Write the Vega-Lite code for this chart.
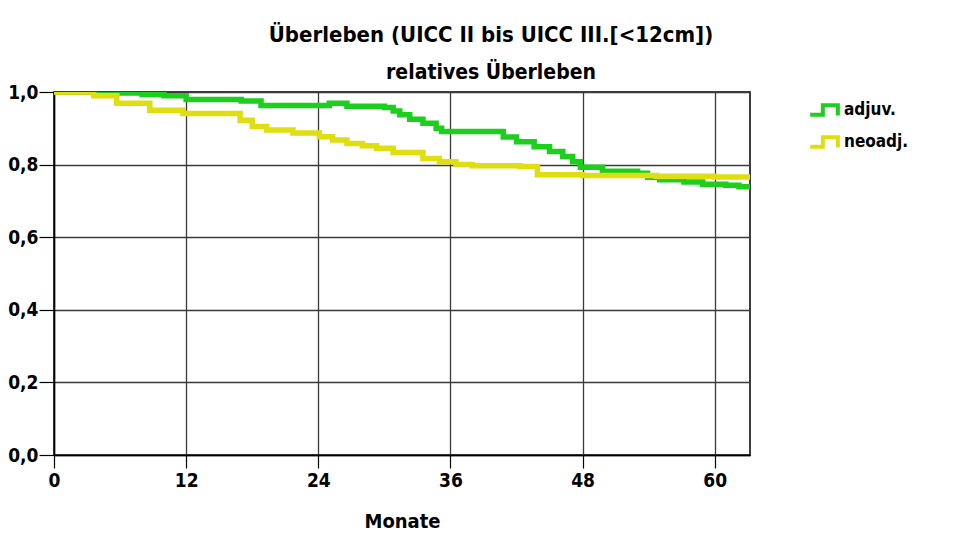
{
  "$schema": "https://vega.github.io/schema/vega-lite/v6.json",
  "width": 696,
  "height": 363,
  "autosize": {"type": "none"},
  "padding": {"left": 54, "top": 92, "right": 206, "bottom": 87},
  "background": "white",
  "title": {
    "text": "Überleben (UICC II bis UICC III.[<12cm])",
    "subtitle": "relatives Überleben",
    "anchor": "middle",
    "dx": 89,
    "offset": -1,
    "font": "Liberation Sans Narrow, DejaVu Sans Condensed, Liberation Sans, sans-serif",
    "fontSize": 22,
    "fontWeight": "bold",
    "color": "black",
    "subtitleFont": "Liberation Sans Narrow, DejaVu Sans Condensed, Liberation Sans, sans-serif",
    "subtitleFontSize": 21,
    "subtitleFontWeight": "bold",
    "subtitleColor": "black",
    "subtitlePadding": 15
  },
  "data": {
    "values": [
      {"group": "adjuv.", "month": 0, "surv": 1.0},
      {"group": "adjuv.", "month": 4, "surv": 0.997},
      {"group": "adjuv.", "month": 8, "surv": 0.993},
      {"group": "adjuv.", "month": 10, "surv": 0.99},
      {"group": "adjuv.", "month": 12, "surv": 0.979},
      {"group": "adjuv.", "month": 17, "surv": 0.975},
      {"group": "adjuv.", "month": 18.8, "surv": 0.963},
      {"group": "adjuv.", "month": 25, "surv": 0.969},
      {"group": "adjuv.", "month": 26.6, "surv": 0.961},
      {"group": "adjuv.", "month": 30, "surv": 0.957},
      {"group": "adjuv.", "month": 30.8, "surv": 0.948},
      {"group": "adjuv.", "month": 31.4, "surv": 0.937},
      {"group": "adjuv.", "month": 32.3, "surv": 0.925},
      {"group": "adjuv.", "month": 33.5, "surv": 0.914},
      {"group": "adjuv.", "month": 34.7, "surv": 0.9},
      {"group": "adjuv.", "month": 35.2, "surv": 0.891},
      {"group": "adjuv.", "month": 40.8, "surv": 0.876},
      {"group": "adjuv.", "month": 42, "surv": 0.863},
      {"group": "adjuv.", "month": 43.6, "surv": 0.849},
      {"group": "adjuv.", "month": 45, "surv": 0.836},
      {"group": "adjuv.", "month": 46.2, "surv": 0.822},
      {"group": "adjuv.", "month": 47.1, "surv": 0.808},
      {"group": "adjuv.", "month": 47.8, "surv": 0.793},
      {"group": "adjuv.", "month": 49.8, "surv": 0.782},
      {"group": "adjuv.", "month": 53, "surv": 0.776},
      {"group": "adjuv.", "month": 53.9, "surv": 0.765},
      {"group": "adjuv.", "month": 55, "surv": 0.758},
      {"group": "adjuv.", "month": 57.2, "surv": 0.752},
      {"group": "adjuv.", "month": 58.9, "surv": 0.746},
      {"group": "adjuv.", "month": 61, "surv": 0.743},
      {"group": "adjuv.", "month": 62.2, "surv": 0.739},
      {"group": "adjuv.", "month": 63.2, "surv": 0.739},
      {"group": "neoadj.", "month": 0, "surv": 1.0},
      {"group": "neoadj.", "month": 3.6, "surv": 0.99},
      {"group": "neoadj.", "month": 5.7, "surv": 0.969},
      {"group": "neoadj.", "month": 8.7, "surv": 0.95},
      {"group": "neoadj.", "month": 11.7, "surv": 0.941},
      {"group": "neoadj.", "month": 16.9, "surv": 0.922},
      {"group": "neoadj.", "month": 18, "surv": 0.905},
      {"group": "neoadj.", "month": 19.3, "surv": 0.895},
      {"group": "neoadj.", "month": 21.7, "surv": 0.887},
      {"group": "neoadj.", "month": 24.1, "surv": 0.877},
      {"group": "neoadj.", "month": 25.3, "surv": 0.868},
      {"group": "neoadj.", "month": 26.6, "surv": 0.858},
      {"group": "neoadj.", "month": 28, "surv": 0.852},
      {"group": "neoadj.", "month": 29.3, "surv": 0.845},
      {"group": "neoadj.", "month": 30.8, "surv": 0.833},
      {"group": "neoadj.", "month": 33.5, "surv": 0.817},
      {"group": "neoadj.", "month": 35, "surv": 0.808},
      {"group": "neoadj.", "month": 36.5, "surv": 0.8},
      {"group": "neoadj.", "month": 38, "surv": 0.797},
      {"group": "neoadj.", "month": 42.3, "surv": 0.795},
      {"group": "neoadj.", "month": 43.9, "surv": 0.772},
      {"group": "neoadj.", "month": 48, "surv": 0.77},
      {"group": "neoadj.", "month": 54.7, "surv": 0.768},
      {"group": "neoadj.", "month": 60, "surv": 0.766},
      {"group": "neoadj.", "month": 63.2, "surv": 0.766}
    ]
  },
  "mark": {"type": "line", "interpolate": "step-after", "strokeWidth": 5.5, "clip": true},
  "encoding": {
    "x": {
      "field": "month",
      "type": "quantitative",
      "title": "Monate",
      "scale": {"domain": [0, 63.2], "nice": false, "zero": false},
      "axis": {"values": [0, 12, 24, 36, 48, 60], "format": "d", "labelFlush": false}
    },
    "y": {
      "field": "surv",
      "type": "quantitative",
      "title": null,
      "scale": {"domain": [0, 1], "nice": false},
      "axis": {
        "values": [0, 0.2, 0.4, 0.6, 0.8, 1.0],
        "labelExpr": "replace(format(datum.value, '.1f'), '.', ',')",
        "tickSize": 15,
        "labelPadding": 1,
        "labelFlush": false
      }
    },
    "color": {
      "field": "group",
      "type": "nominal",
      "scale": {"domain": ["adjuv.", "neoadj."], "range": ["#1ccf1c", "#dede10"]},
      "legend": {
        "title": null,
        "orient": "none",
        "legendX": 754,
        "legendY": 0,
        "symbolType": "M-1,0.3 L-0.2,0.3 L-0.2,-0.3 L0.75,-0.3 L0.75,0.35",
        "symbolStrokeWidth": 4,
        "symbolSize": 1000,
        "labelFont": "Liberation Sans Narrow, DejaVu Sans Condensed, Liberation Sans, sans-serif",
        "labelFontSize": 17,
        "labelFontWeight": "bold",
        "labelColor": "black",
        "labelOffset": 0,
        "rowPadding": -3
      }
    }
  },
  "config": {
    "view": {"stroke": "black", "strokeWidth": 1.5},
    "axis": {
      "domainColor": "black",
      "domainWidth": 1.5,
      "tickColor": "black",
      "tickWidth": 1.2,
      "gridColor": "#3a3a3a",
      "gridWidth": 1.3,
      "gridOpacity": 1,
      "labelFont": "Liberation Sans Narrow, DejaVu Sans Condensed, Liberation Sans, sans-serif",
      "labelFontSize": 19,
      "labelFontWeight": "bold",
      "labelColor": "black",
      "titleFont": "Liberation Sans Narrow, DejaVu Sans Condensed, Liberation Sans, sans-serif",
      "titleFontSize": 20,
      "titleFontWeight": "bold",
      "titleColor": "black"
    },
    "axisX": {"tickSize": 13, "labelPadding": 3, "titlePadding": 21}
  }
}
